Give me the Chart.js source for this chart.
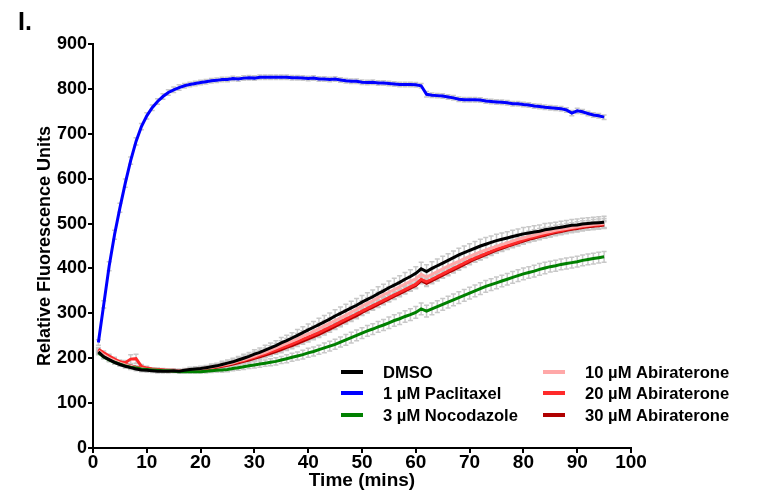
<!DOCTYPE html>
<html>
<head>
<meta charset="utf-8">
<script src="https://cdn.jsdelivr.net/npm/chart.js@4.4.0/dist/chart.umd.min.js"></script>
<style>
  body { margin: 0; background: #fff; }
</style>
</head>
<body>
<canvas id="myChart" width="758" height="492"></canvas>
<script>
// data
const minutes = [
    1, 2, 3, 4, 5, 6, 7, 8, 9, 10, 11, 12, 13, 14, 15, 16, 17, 18, 19, 20,
    21, 22, 23, 24, 25, 26, 27, 28, 29, 30, 31, 32, 33, 34, 35, 36, 37, 38, 39, 40,
    41, 42, 43, 44, 45, 46, 47, 48, 49, 50, 51, 52, 53, 54, 55, 56, 57, 58, 59, 60,
    61, 62, 63, 64, 65, 66, 67, 68, 69, 70, 71, 72, 73, 74, 75, 76, 77, 78, 79, 80,
    81, 82, 83, 84, 85, 86, 87, 88, 89, 90, 91, 92, 93, 94, 95
];

const dmso = [
    214, 203, 197, 191, 186, 182, 179, 176, 174, 173,
    172, 171, 171, 171, 172, 171, 173, 175, 176, 177,
    179, 181, 183, 186, 189, 192, 196, 200, 204, 209,
    213, 218, 223, 228, 234, 239, 245, 251, 257, 263,
    269, 275, 281, 287, 294, 300, 306, 312, 318, 325,
    331, 337, 344, 350, 357, 363, 369, 376, 382, 389,
    399, 393, 400, 406, 412, 418, 424, 430, 435, 440,
    445, 450, 454, 458, 462, 465, 468, 471, 474, 477,
    479, 481, 483, 486, 488, 490, 492, 494, 496, 497,
    499, 500, 501, 502, 503
];

const paclitaxel = [
    235, 320, 405, 475, 535, 590, 640, 683, 716, 740,
    758, 772, 783, 792, 798, 803, 807, 810, 812, 814,
    816, 818, 819, 821, 821, 823, 822, 824, 825, 824,
    826, 826, 826, 826, 826, 826, 825, 825, 824, 823,
    824, 822, 822, 821, 822, 820, 818, 817, 817, 815,
    814, 815, 813, 813, 812, 811, 810, 810, 810, 809,
    807, 788, 786, 785, 784, 782, 780, 777, 776, 776,
    776, 775, 773, 772, 771, 770, 769, 767, 767, 765,
    764, 762, 761, 759, 758, 757, 756, 753, 746, 751,
    749, 745, 742, 740, 737
];

const nocodazole = [
    212, 203, 196, 191, 187, 183, 180, 178, 176, 175,
    174, 173, 172, 172, 171, 170, 170, 170, 170, 170,
    171, 172, 173, 174, 175, 177, 179, 181, 183, 185,
    187, 189, 191, 193, 196, 199, 202, 205, 208, 212,
    215, 219, 223, 227, 231, 236, 241, 246, 251, 256,
    261, 265, 270, 274, 279, 284, 288, 293, 297, 302,
    310, 305, 310, 315, 320, 325, 330, 335, 340, 345,
    350, 355, 360, 364, 368, 372, 376, 380, 384, 388,
    391, 394, 398, 401, 404, 406, 409, 411, 413, 415,
    418, 420, 422, 424, 426
];

const abi10 = [
    216, 207, 200, 194, 189, 185, 182, 179, 177, 175,
    174, 173, 172, 172, 172, 172, 173, 174, 175, 176,
    178, 180, 182, 185, 187, 190, 194, 197, 201, 205,
    209, 213, 218, 223, 228, 233, 238, 243, 249, 254,
    260, 266, 272, 278, 284, 290, 296, 303, 309, 316,
    322, 328, 335, 341, 347, 353, 359, 365, 371, 377,
    387, 381, 387, 393, 399, 405, 411, 416, 422, 427,
    432, 437, 441, 445, 449, 453, 457, 461, 465, 468,
    471, 474, 477, 480, 482, 485, 487, 489, 491, 493,
    495, 496, 498, 499, 500
];

const abi20 = [
    220, 212, 205, 198, 192, 190, 198, 199, 182, 178,
    176, 175, 174, 173, 173, 172, 172, 173, 174, 175,
    177, 179, 181, 183, 186, 189, 192, 195, 199, 202,
    206, 210, 214, 218, 223, 227, 232, 237, 242, 247,
    252, 257, 263, 269, 275, 281, 287, 293, 299, 305,
    311, 317, 323, 329, 335, 341, 347, 353, 359, 365,
    376, 370, 376, 382, 388, 394, 400, 406, 412, 418,
    423, 428, 433, 438, 443, 447, 451, 455, 459, 463,
    467, 470, 473, 476, 479, 482, 484, 487, 489, 491,
    493, 495, 496, 497, 499
];

const abi30 = [
    218, 208, 201, 195, 190, 186, 183, 180, 178, 176,
    175, 174, 173, 172, 172, 172, 172, 173, 174, 175,
    176, 178, 180, 182, 184, 187, 190, 193, 196, 200,
    203, 207, 211, 215, 219, 224, 228, 233, 238, 243,
    248, 253, 259, 265, 271, 277, 283, 289, 295, 302,
    308, 314, 320, 326, 332, 338, 344, 350, 356, 362,
    373, 367, 373, 379, 385, 391, 397, 403, 409, 415,
    421, 426, 431, 436, 441, 445, 449, 453, 457, 461,
    465, 468, 471, 474, 477, 480, 482, 485, 487, 489,
    491, 493, 494, 495, 497
];

// error bars (SEM)
const dmsoErr = [
    4, 4, 4, 4, 4, 4, 4, 4, 4, 4, 4, 4, 4, 4, 4, 4, 4, 5, 5, 5,
    5, 6, 6, 7, 7, 8, 8, 9, 9, 10, 10, 11, 11, 11, 12, 12, 12, 13, 13, 13,
    13, 14, 14, 14, 14, 14, 14, 15, 15, 15, 15, 15, 15, 15, 15, 15, 15, 15, 15, 15,
    15, 15, 15, 15, 15, 15, 15, 15, 15, 15, 15, 15, 15, 14, 14, 14, 14, 14, 14, 14,
    14, 14, 14, 14, 13, 13, 13, 13, 13, 13, 13, 13, 13, 13, 13
];
const paclitaxelErr = [
    6, 8, 10, 10, 10, 9, 8, 8, 7, 7, 6, 6, 6, 6, 6, 6, 5, 5, 5, 5,
    5, 5, 5, 5, 5, 5, 5, 5, 5, 5, 5, 5, 5, 5, 5, 5, 5, 5, 5, 5,
    5, 5, 5, 5, 5, 5, 5, 5, 5, 5, 5, 5, 5, 5, 5, 5, 5, 5, 5, 5,
    5, 6, 5, 5, 5, 5, 5, 5, 5, 5, 5, 5, 5, 5, 5, 5, 5, 5, 5, 5,
    5, 5, 5, 5, 5, 5, 5, 5, 6, 6, 5, 5, 5, 5, 5
];
const nocodazoleErr = [
    4, 4, 4, 4, 4, 4, 4, 4, 4, 4, 3, 3, 3, 3, 3, 3, 3, 3, 3, 3,
    4, 4, 4, 5, 5, 5, 6, 6, 6, 7, 7, 7, 8, 8, 8, 9, 9, 9, 10, 10,
    10, 10, 11, 11, 11, 11, 12, 12, 12, 12, 12, 12, 12, 12, 13, 13, 13, 13, 13, 13,
    13, 13, 13, 13, 13, 13, 13, 13, 13, 13, 13, 13, 13, 13, 13, 13, 13, 13, 13, 13,
    13, 13, 13, 13, 12, 12, 12, 12, 12, 12, 12, 12, 12, 12, 12
];
const abi10Err = [
    4, 4, 4, 4, 4, 4, 4, 4, 4, 4, 3, 3, 3, 3, 3, 3, 3, 3, 4, 4,
    4, 5, 5, 6, 6, 7, 7, 8, 8, 9, 9, 10, 10, 10, 11, 11, 11, 12, 12, 12,
    12, 12, 12, 12, 12, 12, 12, 12, 12, 12, 12, 12, 12, 12, 12, 12, 12, 12, 12, 12,
    12, 12, 12, 12, 12, 12, 12, 12, 12, 12, 12, 12, 12, 12, 12, 12, 12, 12, 12, 12,
    12, 12, 12, 11, 11, 11, 11, 11, 11, 11, 11, 11, 11, 11, 11
];
const abi20Err = [
    4, 4, 4, 4, 4, 5, 10, 10, 4, 4, 3, 3, 3, 3, 3, 3, 3, 3, 3, 3,
    4, 4, 4, 5, 5, 5, 5, 6, 6, 6, 6, 6, 7, 7, 7, 7, 7, 7, 8, 8,
    8, 8, 8, 8, 8, 8, 8, 8, 8, 8, 8, 8, 8, 8, 8, 8, 8, 8, 8, 8,
    8, 8, 8, 8, 8, 8, 8, 8, 8, 8, 8, 8, 8, 8, 8, 8, 8, 8, 8, 8,
    8, 8, 8, 8, 8, 8, 8, 8, 8, 8, 8, 8, 8, 8, 8
];
const abi30Err = [
    4, 4, 4, 4, 4, 4, 4, 4, 4, 4, 3, 3, 3, 3, 3, 3, 3, 3, 3, 3,
    3, 4, 4, 4, 4, 5, 5, 5, 5, 6, 6, 6, 6, 6, 7, 7, 7, 7, 7, 7,
    7, 7, 7, 7, 7, 7, 7, 7, 7, 7, 7, 7, 7, 7, 7, 7, 7, 7, 7, 7,
    7, 7, 7, 7, 7, 7, 7, 7, 7, 7, 7, 7, 7, 7, 7, 7, 7, 7, 7, 7,
    7, 7, 7, 7, 7, 7, 7, 7, 7, 7, 7, 7, 7, 7, 7
];

const xTicks = [0, 10, 20, 30, 40, 50, 60, 70, 80, 90, 100];
const yTicks = [0, 100, 200, 300, 400, 500, 600, 700, 800, 900];

const FONT = 'Arial, "Liberation Sans", sans-serif';

function pts(vals) {
    return minutes.map((m, i) => ({ x: m, y: vals[i] }));
}

const series = [
    { label: 'DMSO', vals: dmso, err: dmsoErr, color: '#000000' },
    { label: '1 µM Paclitaxel', vals: paclitaxel, err: paclitaxelErr, color: '#0000ff' },
    { label: '3 µM Nocodazole', vals: nocodazole, err: nocodazoleErr, color: '#008000' },
    { label: '10 µM Abiraterone', vals: abi10, err: abi10Err, color: '#ffa8a8' },
    { label: '20 µM Abiraterone', vals: abi20, err: abi20Err, color: '#ff2a2a' },
    { label: '30 µM Abiraterone', vals: abi30, err: abi30Err, color: '#b00000' }
];

// grey SEM whiskers under the lines
const errorBars = {
    id: 'errorBars',
    beforeDatasetsDraw(chart) {
        const { ctx, scales: { x, y } } = chart;
        ctx.save();
        ctx.strokeStyle = '#c8c8c8';
        ctx.lineWidth = 1.5;
        series.forEach((s) => {
            s.vals.forEach((v, j) => {
                const px = x.getPixelForValue(minutes[j]);
                const top = y.getPixelForValue(v + s.err[j]);
                const bot = y.getPixelForValue(v - s.err[j]);
                ctx.beginPath();
                ctx.moveTo(px, top); ctx.lineTo(px, bot);
                ctx.moveTo(px - 2.5, top); ctx.lineTo(px + 2.5, top);
                ctx.moveTo(px - 2.5, bot); ctx.lineTo(px + 2.5, bot);
                ctx.stroke();
            });
        });
        ctx.restore();
    }
};

// two-column legend inside the plot + panel letter
const extras = {
    id: 'extras',
    afterDraw(chart) {
        const ctx = chart.ctx;
        ctx.save();
        ctx.font = 'bold 25px ' + FONT;
        ctx.fillStyle = '#000';
        ctx.textBaseline = 'alphabetic';
        ctx.fillText('I.', 18, 30);

        ctx.font = 'bold 16.6px ' + FONT;
        ctx.textBaseline = 'middle';
        const cols = [{ lx: 341, tx: 383 }, { lx: 543, tx: 585 }];
        const rows = [372, 393, 415];
        series.forEach((s, i) => {
            const c = cols[Math.floor(i / 3)];
            const ry = rows[i % 3];
            ctx.strokeStyle = s.color;
            ctx.lineWidth = 4;
            ctx.beginPath();
            ctx.moveTo(c.lx, ry);
            ctx.lineTo(c.lx + 22, ry);
            ctx.stroke();
            ctx.fillText(s.label, c.tx, ry + 1);
        });
        ctx.restore();
    }
};

const datasets = series.map((s) => ({
    label: s.label,
    data: pts(s.vals),
    borderColor: s.color,
    backgroundColor: s.color,
    borderWidth: 3,
    pointRadius: 0,
    tension: 0,
    fill: false
}));

const config = {
    type: 'line',
    data: { datasets },
    options: {
        responsive: false,
        animation: false,
        layout: { padding: { top: 44, right: 127, left: 0, bottom: 0 } },
        plugins: {
            legend: { display: false },
            tooltip: { enabled: false }
        },
        scales: {
            x: {
                type: 'linear',
                min: 0,
                max: 100,
                afterBuildTicks: (scale) => { scale.ticks = xTicks.map((v) => ({ value: v })); },
                afterFit: (scale) => { scale.height = 44; },
                grid: { display: true, drawOnChartArea: false, drawTicks: true, tickLength: 5, color: '#000', lineWidth: 2 },
                border: { color: '#000', width: 2 },
                ticks: { color: '#000', font: { family: FONT, size: 19, weight: 'bold' }, padding: -2, maxRotation: 0 },
                title: { display: true, text: 'Time (mins)', color: '#000', font: { family: FONT, size: 19, weight: 'bold' }, padding: { top: 0, bottom: 0 } }
            },
            y: {
                min: 0,
                max: 900,
                afterBuildTicks: (scale) => { scale.ticks = yTicks.map((v) => ({ value: v })); },
                afterFit: (scale) => { scale.width = 93; },
                grid: { display: true, drawOnChartArea: false, drawTicks: true, tickLength: 5, color: '#000', lineWidth: 2 },
                border: { color: '#000', width: 2 },
                ticks: { color: '#000', font: { family: FONT, size: 18, weight: 'bold' }, padding: 1 },
                title: { display: true, text: 'Relative Fluorescence Units', color: '#000', font: { family: FONT, size: 18, weight: 'bold' }, padding: { top: 34, bottom: 0 } }
            }
        }
    },
    plugins: [errorBars, extras]
};

// render init block
const myChart = new Chart(document.getElementById('myChart'), config);
</script>
</body>
</html>
